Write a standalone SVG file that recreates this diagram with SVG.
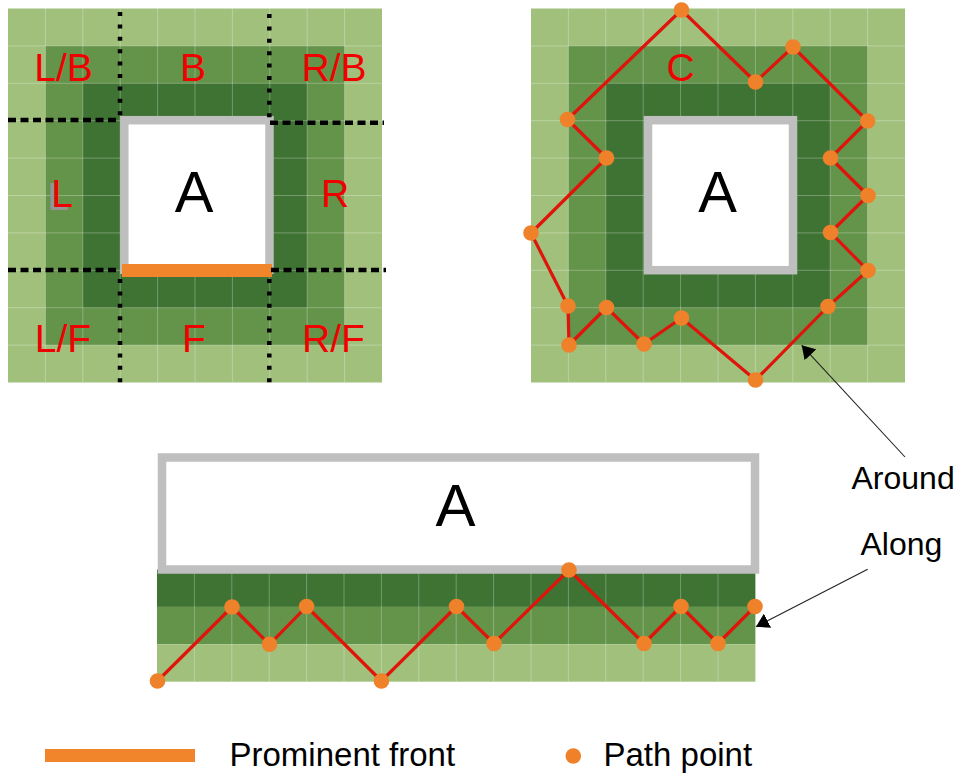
<svg xmlns="http://www.w3.org/2000/svg" width="959" height="778" viewBox="0 0 959 778">
<defs>
<style>
.lt{fill:#A1C07C}
.md{fill:#64934A}
.dk{fill:#3F7334}
.grid{fill:none;stroke:#fff;stroke-opacity:.28;stroke-width:1}
.box{fill:#fff;stroke:#BFBFBF;stroke-width:8.5}
.lbl{font-family:"Liberation Sans",Arial,sans-serif;font-size:39px;fill:#F00000;text-anchor:middle}
.big{font-family:"Liberation Sans",Arial,sans-serif;font-size:58px;fill:#000;text-anchor:middle}
.txt{font-family:"Liberation Sans",Arial,sans-serif;font-size:32px;fill:#000}
.hd{fill:none;stroke:#000;stroke-width:4.5;stroke-dasharray:8 4.5}
.vd{fill:none;stroke:#000;stroke-width:4.5;stroke-dasharray:4 8.4}
.route{fill:none;stroke:#E0140A;stroke-width:3.2;stroke-linejoin:round}
.pt{fill:#EE8129}
.front{fill:#F0852B}
.conn{fill:none;stroke:#222;stroke-width:1.1}
</style>
<marker id="ah" viewBox="0 0 13 16" refX="13" refY="8" markerWidth="13" markerHeight="16" markerUnits="userSpaceOnUse" orient="auto">
<path d="M0,0 L13,8 L0,16 z" fill="#000"/>
</marker>
</defs>

<g id="panel-sides">
<rect class="lt" x="8" y="8.5" width="374" height="374"/>
<rect class="md" x="45.4" y="45.9" width="299.2" height="299.2"/>
<rect class="dk" x="82.8" y="83.3" width="224.4" height="224.4"/>
<path class="grid" d="M45.4,8.5V382.5M82.8,8.5V382.5M120.2,8.5V382.5M157.6,8.5V382.5M195,8.5V382.5M232.4,8.5V382.5M269.8,8.5V382.5M307.2,8.5V382.5M344.6,8.5V382.5M8,45.9H382M8,83.3H382M8,120.7H382M8,158.1H382M8,195.5H382M8,232.9H382M8,270.3H382M8,307.7H382M8,345.1H382"/>
<rect class="box" x="124.3" y="120.2" width="145.2" height="149.5"/>
<rect class="front" x="122" y="264" width="150" height="13"/>
<path class="hd" d="M8,120H120M270,122.7H384M8,270H120M271,270H386"/>
<path class="vd" d="M120,12V118M269.3,14V118M120,279V386M269.3,279V386"/>
<text class="lbl" x="63.5" y="81">L/B</text>
<text class="lbl" x="193" y="81">B</text>
<text class="lbl" x="334" y="81">R/B</text>
<text class="lbl" x="58" y="210" style="fill:#959595">L</text>
<text class="lbl" x="62" y="207">L</text>
<text class="lbl" x="335" y="207">R</text>
<text class="lbl" x="63" y="352">L/F</text>
<text class="lbl" x="194" y="352">F</text>
<text class="lbl" x="333.5" y="352">R/F</text>
<text class="big" x="194" y="212">A</text>
</g>

<g id="panel-around">
<rect class="lt" x="531" y="8.5" width="374" height="374"/>
<rect class="md" x="568.4" y="45.9" width="299.2" height="299.2"/>
<rect class="dk" x="605.8" y="83.3" width="224.4" height="224.4"/>
<path class="grid" d="M568.4,8.5V382.5M605.8,8.5V382.5M643.2,8.5V382.5M680.6,8.5V382.5M718,8.5V382.5M755.4,8.5V382.5M792.8,8.5V382.5M830.2,8.5V382.5M867.6,8.5V382.5M531,45.9H905M531,83.3H905M531,120.7H905M531,158.1H905M531,195.5H905M531,232.9H905M531,270.3H905M531,307.7H905M531,345.1H905"/>
<rect class="box" x="648" y="120.2" width="145" height="150"/>
<text class="lbl" x="680.5" y="80.5">C</text>
<text class="big" x="717.5" y="212">A</text>
<polygon class="route" points="681.5,10 755.5,82 793,47 867.6,121 830.5,158 868,195.5 830.5,232.5 868,270.5 828,306.5 755.5,380 681.5,318 644,344 606.5,307.5 569,345 568,306 531,233 606.5,158 567.5,119.5"/>
<g class="pt">
<circle cx="681.5" cy="10" r="7.8"/><circle cx="755.5" cy="82" r="7.8"/><circle cx="793" cy="47" r="7.8"/><circle cx="867.6" cy="121" r="7.8"/><circle cx="830.5" cy="158" r="7.8"/><circle cx="868" cy="195.5" r="7.8"/><circle cx="830.5" cy="232.5" r="7.8"/><circle cx="868" cy="270.5" r="7.8"/><circle cx="828" cy="306.5" r="7.8"/><circle cx="755.5" cy="380" r="7.8"/><circle cx="681.5" cy="318" r="7.8"/><circle cx="644" cy="344" r="7.8"/><circle cx="606.5" cy="307.5" r="7.8"/><circle cx="569" cy="345" r="7.8"/><circle cx="568" cy="306" r="7.8"/><circle cx="531" cy="233" r="7.8"/><circle cx="606.5" cy="158" r="7.8"/><circle cx="567.5" cy="119.5" r="7.8"/>
</g>
</g>

<g id="panel-along">
<rect class="dk" x="157" y="569.5" width="598.4" height="37.4"/>
<rect class="md" x="157" y="606.9" width="598.4" height="37.4"/>
<rect class="lt" x="157" y="644.3" width="598.4" height="37.4"/>
<path class="grid" d="M194.4,569.5V681.7M231.8,569.5V681.7M269.2,569.5V681.7M306.6,569.5V681.7M344,569.5V681.7M381.4,569.5V681.7M418.8,569.5V681.7M456.2,569.5V681.7M493.6,569.5V681.7M531,569.5V681.7M568.4,569.5V681.7M605.8,569.5V681.7M643.2,569.5V681.7M680.6,569.5V681.7M718,569.5V681.7"/>
<rect class="box" x="162" y="457.5" width="593" height="112"/>
<text class="big" x="455.5" y="526" style="font-size:60px">A</text>
<polyline class="route" points="157.5,681 232,607 269.5,644.3 306.6,606.5 381.4,681 456.5,606.5 494,643.5 569,570 644,643.5 681,606.5 718,643.5 755,606.5"/>
<g class="pt">
<circle cx="157.5" cy="681" r="7.8"/><circle cx="232" cy="607" r="7.8"/><circle cx="269.5" cy="644.3" r="7.8"/><circle cx="306.6" cy="606.5" r="7.8"/><circle cx="381.4" cy="681" r="7.8"/><circle cx="456.5" cy="606.5" r="7.8"/><circle cx="494" cy="643.5" r="7.8"/><circle cx="569" cy="570" r="7.8"/><circle cx="644" cy="643.5" r="7.8"/><circle cx="681" cy="606.5" r="7.8"/><circle cx="718" cy="643.5" r="7.8"/><circle cx="755" cy="606.5" r="7.8"/>
</g>
</g>

<g id="label-around"><text class="txt" x="851.5" y="489.3">Around</text></g>
<g id="label-along"><text class="txt" x="860.5" y="555">Along</text></g>

<g id="connectors">
<line class="conn" x1="905" y1="457" x2="801.7" y2="345.3" marker-end="url(#ah)"/>
<line class="conn" x1="867.7" y1="569.3" x2="756" y2="626.7" marker-end="url(#ah)"/>
</g>

<g id="legend">
<rect class="front" x="45" y="749" width="150" height="13"/>
<text class="txt" x="229.5" y="766" style="font-size:33px">Prominent front</text>
<circle class="pt" cx="573.3" cy="756" r="7.8"/>
<text class="txt" x="603.5" y="766" style="font-size:33px">Path point</text>
</g>
</svg>
